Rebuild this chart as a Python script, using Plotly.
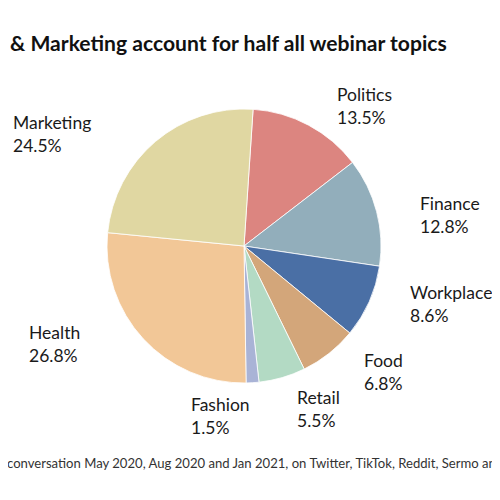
import plotly.graph_objects as go

categories = ["Politics", "Finance", "Workplace", "Food", "Retail", "Fashion", "Health", "Marketing"]
shares = [13.5, 12.8, 8.6, 6.8, 5.5, 1.5, 26.8, 24.5]
colors = ["#DC8580", "#92AEBB", "#4A6FA5", "#D3A67A", "#B3DAC4", "#A9B3D6", "#F2C797", "#E0D7A2"]

title_text = "Health & Marketing account for half all webinar topics"
note_prefix = "Source: analysis of online webinar "
note_text = "conversation May 2020, Aug 2020 and Jan 2021, on Twitter, TikTok, Reddit, Sermo and LinkedIn"

# layout (screen px in the 500x500 window; page body has an 8px margin)
W = H = 500
OFF = 8
cx, cy, R = 244, 246, 137
label_pos = {  # left edge x, vertical centre y of each two-line label
    "Politics": (337, 105.5), "Finance": (420, 215), "Workplace": (410, 303.5),
    "Food": (364, 371.5), "Retail": (296.5, 408.5), "Fashion": (190.5, 416),
    "Health": (29, 343.5), "Marketing": (12.5, 134),
}

def px(x):
    return (x - OFF) / W

def py(y):
    return 1 - (y - OFF) / H

fig = go.Figure()
fig.add_trace(go.Pie(
    labels=categories, values=shares, sort=False, direction="clockwise", rotation=3.8,
    marker=dict(colors=colors, line=dict(color="white", width=0.8)),
    textinfo="none", hoverinfo="label+percent", showlegend=False,
    domain=dict(x=[px(cx - R), px(cx + R)], y=[py(cy + R), py(cy - R)]),
))

for cat, val in zip(categories, shares):
    lx, ly = label_pos[cat]
    fig.add_annotation(text=f"{cat}<br>{val:.1f}%", xref="paper", yref="paper",
                       x=px(lx - 2), y=py(ly), xanchor="left", yanchor="middle", align="left",
                       showarrow=False, font=dict(family="Lato", size=17.5, color="#1a1a1a"))

fig.add_annotation(text="<b>" + title_text + "</b>", xref="paper", yref="paper",
                   x=px(449), y=py(42), xanchor="right", yanchor="middle", showarrow=False,
                   font=dict(family="Lato", size=21.1, color="#111"))
fig.add_annotation(text=note_prefix, xref="paper", yref="paper",
                   x=px(4.5), y=py(463), xanchor="right", yanchor="middle", showarrow=False,
                   font=dict(family="Lato", size=13.1, color="#333"))
fig.add_annotation(text=note_text, xref="paper", yref="paper",
                   x=px(4.5), y=py(463), xanchor="left", yanchor="middle", showarrow=False,
                   font=dict(family="Lato", size=13.1, color="#333"))

fig.update_layout(width=W, height=H, margin=dict(l=0, r=0, t=0, b=0),
                  paper_bgcolor="white", plot_bgcolor="white")
fig.write_html("out.html")
